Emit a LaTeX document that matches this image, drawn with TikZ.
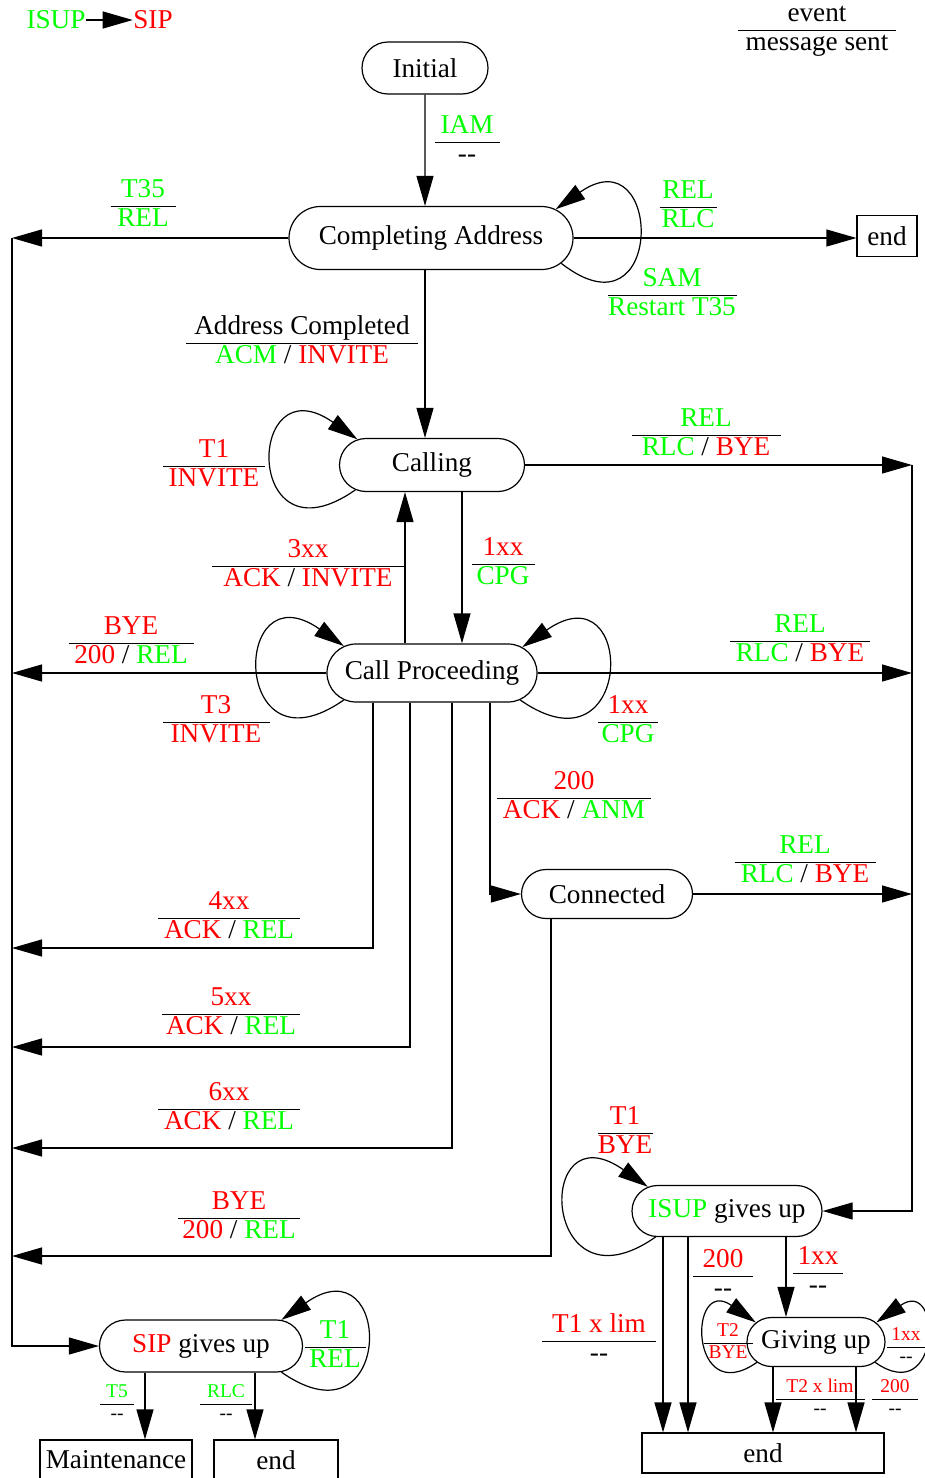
\documentclass[tikz,border=0pt]{standalone}
\usepackage{fontspec}
\setmainfont{Liberation Serif}
\usepackage{tikz}
\usetikzlibrary{shapes.misc, arrows.meta, positioning}
\definecolor{isupGreen}{RGB}{0,255,0}
\definecolor{sipRed}{RGB}{255,0,0}
\setlength{\arrayrulewidth}{1.2pt}
\newcommand{\isupc}[1]{\textcolor{isupGreen}{#1}}
\newcommand{\sipc}[1]{\textcolor{sipRed}{#1}}
\newcommand{\evlabel}[3]{\begin{tabular}{@{}c@{}}\makebox[#1pt]{#2}\\[-0.1\baselineskip]\hline\rule{0pt}{0.78\baselineskip}#3\end{tabular}}
\newcommand{\nomsg}{-{}-}

\begin{document}
\begin{tikzpicture}[
  x=1pt, y=1pt,
  line width=1.2pt,
  every node/.style={font=\fontsize{27.2}{28}\selectfont},
  callstate/.style={
    rounded rectangle,
    draw,
    inner sep=0pt,
    line width=1.2pt
  },
  endbox/.style={rectangle, draw, inner sep=0pt},
  evt/.style={inner sep=0pt, yshift=-2.5pt},
  evsmall/.style={font=\fontsize{19.5}{21}\selectfont},
  arr/.style={-{Triangle[length=30pt,width=17pt]}},
]
\useasboundingbox (0,0) rectangle (925,-1478);

% legend
\node[inner sep=0pt, text=isupGreen] (lgIsup) at (56,-20) {ISUP};
\node[inner sep=0pt, text=sipRed] (lgSip) at (153,-20) {SIP};
\draw[arr] (lgIsup) -- (lgSip);
\node[evt] (legend) at (817,-28) {\evlabel{158}{event}{message sent}};

% states
\node[callstate, minimum width=126pt, minimum height=52pt] (init) at (425,-68) {Initial};
\node[callstate, minimum width=284pt, minimum height=63pt] (compl) at (431,-238) {Completing Address};
\node[callstate, minimum width=185pt, minimum height=53pt] (calling) at (432,-465) {Calling};
\node[callstate, minimum width=210pt, minimum height=58pt] (callproc) at (432,-673) {Call Proceeding};
\node[callstate, minimum width=171pt, minimum height=49pt] (conn) at (607,-894) {Connected};
\node[callstate, minimum width=190pt, minimum height=51pt] (isupgu) at (727,-1211) {\isupc{ISUP} gives up};
\node[callstate, minimum width=138pt, minimum height=49pt] (givup) at (816,-1342) {Giving up};
\node[callstate, minimum width=203pt, minimum height=52pt] (sipgu) at (201,-1346) {\sipc{SIP} gives up};

\node[endbox, minimum width=60pt, minimum height=41pt] (endA) at (887,-236) {end};
\node[endbox, minimum width=242pt, minimum height=40pt] (endB) at (763,-1453) {end};
\node[endbox, minimum width=152pt, minimum height=40pt] (maint) at (116,-1460) {Maintenance};
\node[endbox, minimum width=124pt, minimum height=40pt] (endC) at (276,-1460) {end};

% bus points
\coordinate (busA) at (12,-238);
\coordinate (busB) at (12,-673);
\coordinate (busC) at (12,-948);
\coordinate (busD) at (12,-1047);
\coordinate (busE) at (12,-1148);
\coordinate (busF) at (12,-1256);
\coordinate (rbusA) at (912,-465);
\coordinate (rbusB) at (912,-673);
\coordinate (rbusC) at (912,-894);

% transitions
\draw[arr] (init) -- (init |- compl.north);
\draw[arr] (compl.east) -- (compl.east -| endA.west);
\draw[arr] (compl.west) -- (busA);
\draw[arr] (busA) |- (sipgu.west);
\draw[arr] (init |- compl.south) -- (init |- calling.north);
\draw[arr] (calling.east) -- (rbusA);
\draw[arr] (rbusA) |- (isupgu.east);
\draw[arr] ([xshift=-27pt]callproc.north) -- ([xshift=-27pt]callproc.north |- calling.south);
\draw[arr] ([xshift=30pt]calling.south) -- ([xshift=30pt]calling.south |- callproc.north);
\draw[arr] (callproc.west) -- (busB);
\draw[arr] (callproc.east) -- (rbusB);
\draw[arr] ([xshift=-59pt]callproc.south) |- (busC);
\draw[arr] ([xshift=-22pt]callproc.south) |- (busD);
\draw[arr] ([xshift=20pt]callproc.south) |- (busE);
\draw[arr] ([xshift=58pt]callproc.south) |- (conn.west);
\draw[arr] (conn.east) -- (rbusC);
\draw[arr] ([xshift=-56pt]conn.south) |- (busF);
\draw[arr] ([xshift=-64pt]isupgu.south) -- ([xshift=-64pt]isupgu.south |- endB.north);
\draw[arr] ([xshift=-39pt]isupgu.south) -- ([xshift=-39pt]isupgu.south |- endB.north);
\draw[arr] ([xshift=59pt]isupgu.south) -- ([xshift=59pt]isupgu.south |- givup.north);
\draw[arr] ([xshift=-43pt]givup.south) -- ([xshift=-43pt]givup.south |- endB.north);
\draw[arr] ([xshift=40pt]givup.south) -- ([xshift=40pt]givup.south |- endB.north);
\draw[arr] ([xshift=-56pt]sipgu.south) -- ([xshift=-56pt]sipgu.south |- maint.north);
\draw[arr] ([xshift=54pt]sipgu.south) -- ([xshift=54pt]sipgu.south |- endC.north);

% self loops
\draw[arr] (compl.-11) to[out=-38, in=35, distance=132pt] (compl.13);
\draw[arr] (calling.198) to[out=215, in=145, distance=137pt] (calling.161);
\draw[arr] (callproc.197) to[out=215, in=145, distance=138pt] (callproc.163);
\draw[arr] (callproc.-17) to[out=-35, in=35, distance=140pt] (callproc.16);
\draw[arr] (isupgu.200) to[out=215, in=145, distance=140pt] (isupgu.163);
\draw[arr] (givup.199) to[out=215, in=145, distance=83pt] (givup.162);
\draw[arr] (givup.-19) to[out=-35, in=35, distance=81pt] (givup.18);
\draw[arr] (sipgu.-18) to[out=-35, in=35, distance=138pt] (sipgu.18);

% event / message labels
\node[evt] (lbIam) at (467,-140) {\evlabel{65}{\isupc{IAM}}{\nomsg}};
\node[evt] (lbT35) at (143,-204) {\evlabel{65}{\isupc{T35}}{\isupc{REL}}};
\node[evt] (lbRelA) at (688,-205) {\evlabel{57}{\isupc{REL}}{\isupc{RLC}}};
\node[evt] (lbSam) at (672,-293) {\evlabel{129}{\isupc{SAM}}{\isupc{Restart T35}}};
\node[evt] (lbAddr) at (302,-341) {\evlabel{232}{Address Completed}{\isupc{ACM} / \sipc{INVITE}}};
\node[evt] (lbT1) at (214,-464) {\evlabel{102}{\sipc{T1}}{\sipc{INVITE}}};
\node[evt] (lbRelB) at (706,-433) {\evlabel{149}{\isupc{REL}}{\isupc{RLC} / \sipc{BYE}}};
\node[evt] (lb3xx) at (308,-564) {\evlabel{193}{\sipc{3xx}}{\sipc{ACK} / \sipc{INVITE}}};
\node[evt] (lb1xxA) at (503,-562) {\evlabel{63}{\sipc{1xx}}{\isupc{CPG}}};
\node[evt] (lbByeA) at (131,-641) {\evlabel{125}{\sipc{BYE}}{\sipc{200} / \isupc{REL}}};
\node[evt] (lbT3) at (216,-720) {\evlabel{107}{\sipc{T3}}{\sipc{INVITE}}};
\node[evt] (lbRelC) at (800,-639) {\evlabel{140}{\isupc{REL}}{\isupc{RLC} / \sipc{BYE}}};
\node[evt] (lb1xxB) at (628,-720) {\evlabel{60}{\sipc{1xx}}{\isupc{CPG}}};
\node[evt] (lb200A) at (574,-796) {\evlabel{154}{\sipc{200}}{\sipc{ACK} / \isupc{ANM}}};
\node[evt] (lbRelD) at (805,-860) {\evlabel{141}{\isupc{REL}}{\isupc{RLC} / \sipc{BYE}}};
\node[evt] (lb4xx) at (229,-916) {\evlabel{142}{\sipc{4xx}}{\sipc{ACK} / \isupc{REL}}};
\node[evt] (lb5xx) at (231,-1012) {\evlabel{138}{\sipc{5xx}}{\sipc{ACK} / \isupc{REL}}};
\node[evt] (lb6xx) at (229,-1107) {\evlabel{142}{\sipc{6xx}}{\sipc{ACK} / \isupc{REL}}};
\node[evt] (lbByeB) at (239,-1216) {\evlabel{122}{\sipc{BYE}}{\sipc{200} / \isupc{REL}}};
\node[evt] (lbT1B) at (625,-1131) {\evlabel{55}{\sipc{T1}}{\sipc{BYE}}};
\node[evt] (lbT1lim) at (599,-1339) {\evlabel{114}{\sipc{T1 x lim}}{\nomsg}};
\node[evt] (lb200B) at (723,-1274) {\evlabel{60}{\sipc{200}}{\nomsg}};
\node[evt] (lb1xxC) at (818,-1271) {\evlabel{50}{\sipc{1xx}}{\nomsg}};
\node[evt, evsmall] (lbT2) at (728,-1341) {\evlabel{49}{\sipc{T2}}{\sipc{BYE}}};
\node[evt, evsmall] (lb1xxD) at (906,-1345) {\evlabel{38}{\sipc{1xx}}{\nomsg}};
\node[evt, evsmall] (lbT2lim) at (820,-1397) {\evlabel{89}{\sipc{T2 x lim}}{\nomsg}};
\node[evt, evsmall] (lb200C) at (895,-1397) {\evlabel{46}{\sipc{200}}{\nomsg}};
\node[evt] (lbT1C) at (335,-1345) {\evlabel{61}{\isupc{T1}}{\isupc{REL}}};
\node[evt, evsmall] (lbT5) at (117,-1402) {\evlabel{34}{\isupc{T5}}{\nomsg}};
\node[evt, evsmall] (lbRlc) at (226,-1402) {\evlabel{52}{\isupc{RLC}}{\nomsg}};

\end{tikzpicture}
\end{document}
